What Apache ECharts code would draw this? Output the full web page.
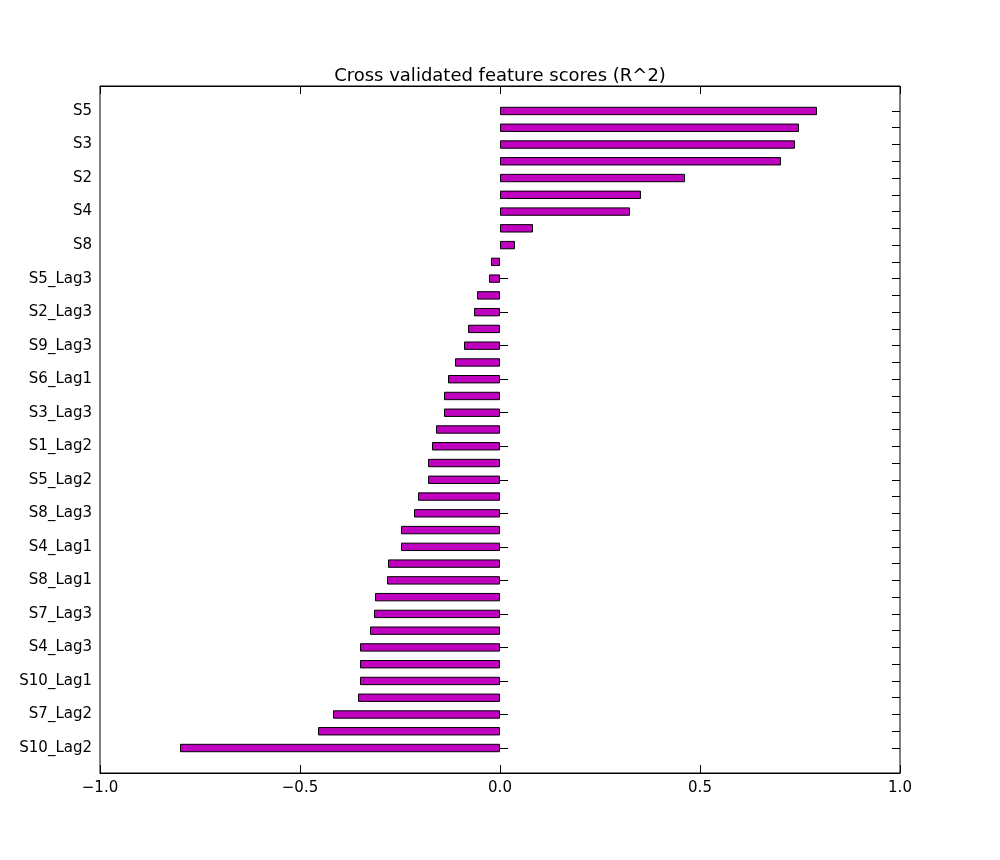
<!DOCTYPE html>
<html><head><meta charset="utf-8">
<script src="https://cdn.jsdelivr.net/npm/echarts@6/dist/echarts.min.js"></script>
<style>html,body{margin:0;background:#fff}#c{width:1000px;height:860px}</style>
</head><body><div id="c"></div>
<script>
var features = ['S5','S9','S3','S7','S2','S6','S4','S10','S8','S1_Lag1','S5_Lag3','S1_Lag3','S2_Lag3','S3_Lag2','S9_Lag3','S6_Lag2','S6_Lag1','S2_Lag2','S3_Lag3','S6_Lag3','S1_Lag2','S3_Lag1','S5_Lag2','S7_Lag1','S8_Lag3','S8_Lag2','S4_Lag1','S2_Lag1','S8_Lag1','S4_Lag2','S7_Lag3','S9_Lag2','S4_Lag3','S5_Lag1','S10_Lag1','S9_Lag1','S7_Lag2','S10_Lag3','S10_Lag2'];
var scores = [0.7925,0.7475,0.7375,0.7025,0.4625,0.3525,0.325,0.0825,0.0375,-0.0225,-0.0275,-0.0575,-0.065,-0.08,-0.09,-0.1125,-0.13,-0.14,-0.14,-0.16,-0.17,-0.18,-0.18,-0.205,-0.215,-0.2475,-0.2475,-0.28,-0.2825,-0.3125,-0.315,-0.325,-0.35,-0.35,-0.35,-0.355,-0.4175,-0.455,-0.8];
var xTicks = ['\u22121.0','\u22120.5','0.0','0.5','1.0'];

var font = 'DejaVu Sans';
var chart = echarts.init(document.getElementById('c'));
var hidden = {show: false};
chart.setOption({
  animation: false,
  textStyle: {fontFamily: font},
  title: {text: 'Cross validated feature scores (R^2)', left: 'center', top: 62,
    textStyle: {fontFamily: font, fontSize: 18, fontWeight: 'normal', color: '#000'}},
  grid: [
    {left: 100, right: 100, top: 102.6, bottom: 103.6},
    {left: 100, right: 100, top: 86, bottom: 87, show: true, borderColor: '#000', borderWidth: 1, backgroundColor: 'transparent'}
  ],
  xAxis: [
    {gridIndex: 0, type: 'value', min: -1, max: 1, axisLine: hidden, axisTick: hidden, axisLabel: hidden, splitLine: hidden},
    {gridIndex: 1, type: 'value', min: -1, max: 1, interval: 0.5, position: 'bottom',
      axisLine: {show: true, lineStyle: {color: '#000'}},
      axisTick: {show: true, inside: true, length: 8, lineStyle: {color: '#000'}},
      minorTick: {show: false}, splitLine: hidden,
      axisLabel: {color: '#000', fontSize: 15, margin: 8, formatter: function (v) { return xTicks[Math.round((v + 1) * 2)]; }}},
    {gridIndex: 1, type: 'value', min: -1, max: 1, interval: 0.5, position: 'top',
      axisLine: {show: true, lineStyle: {color: '#000'}},
      axisTick: {show: true, inside: true, length: 8, lineStyle: {color: '#000'}},
      axisLabel: hidden, splitLine: hidden}
  ],
  yAxis: [
    {gridIndex: 0, type: 'category', data: features, inverse: true, position: 'left',
      axisLine: hidden, axisTick: {show: true, inside: true, alignWithLabel: true, length: 8, lineStyle: {color: '#000'}},
      axisLabel: {color: '#000', fontSize: 15, margin: 8}},
    {gridIndex: 0, type: 'category', data: features, inverse: true, position: 'right',
      axisLine: hidden, axisTick: {show: true, inside: true, alignWithLabel: true, length: 8, lineStyle: {color: '#000'}},
      axisLabel: hidden},
    {gridIndex: 1, type: 'value', axisLine: hidden, axisTick: hidden, axisLabel: hidden, splitLine: hidden}
  ],
  series: [{
    type: 'bar', xAxisIndex: 0, yAxisIndex: 0, data: scores, barWidth: '50%',
    itemStyle: {color: '#bf00bf', borderColor: '#000', borderWidth: 1}
  }]
});
</script></body></html>
